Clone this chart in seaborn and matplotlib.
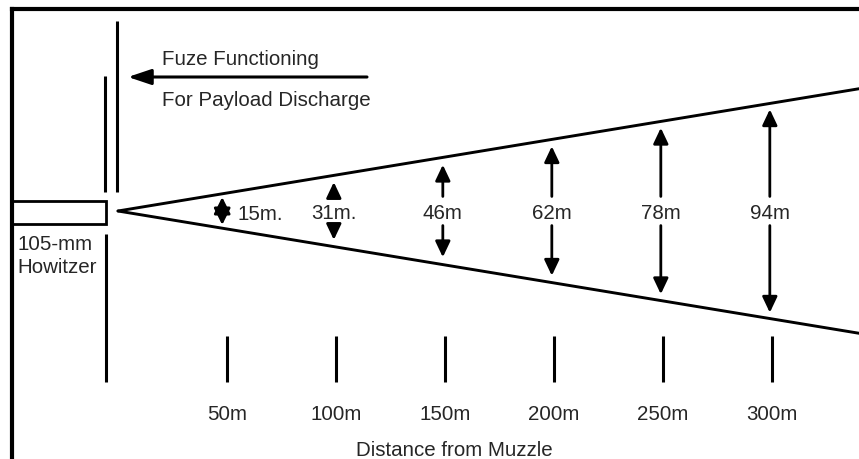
import numpy as np
import pandas as pd
import seaborn as sns
import matplotlib.pyplot as plt
from matplotlib.patches import Rectangle

# burst pattern diameter at each distance from the muzzle
distance = [50, 100, 150, 200, 250, 300]
diameter = [15, 31, 46, 62, 78, 94]
dist_labels = ["50m", "100m", "150m", "200m", "250m", "300m"]
dia_labels = ["15m.", "31m.", "46m", "62m", "78m", "94m"]

# layout: pixel position of the muzzle and pixels per metre
X0, XS = 118, 2.18
Y0, YS = 212, 2.31
FS = 14.8


def fx(p):
    return (p - X0) / XS


def fy(p):
    return (Y0 - p) / YS


sns.set_theme(style="white")
plt.rcParams["font.family"] = ["Liberation Sans", "DejaVu Sans"]

fig = plt.figure(figsize=(8.59, 4.60), dpi=100)
ax = fig.add_axes([11.5 / 859, 0, 1 - 11.5 / 859, 1 - 10 / 460])
ax.set_xlim(fx(11.5), fx(859))
ax.set_ylim(fy(460), fy(10))
ax.set_xticks([])
ax.set_yticks([])
for s in ["right", "bottom"]:
    ax.spines[s].set_visible(False)
for s in ["left", "top"]:
    ax.spines[s].set_color("black")
    ax.spines[s].set_linewidth(3)

# cone of the burst pattern, edges fitted through the half diameters
d = np.array(distance, dtype=float)
half = np.array(diameter, dtype=float) / 2
k = np.sum(d * half) / np.sum(d * d)
xend = fx(859)
cone = pd.DataFrame({
    "d": [0, xend, 0, xend],
    "edge": [0, k * xend, 0, -k * xend],
    "side": ["upper", "upper", "lower", "lower"],
})
sns.lineplot(data=cone, x="d", y="edge", units="side", estimator=None,
             color="black", linewidth=2.1, ax=ax, legend=False)

# diameter arrows
head = dict(color="black", lw=2, shrinkA=0, shrinkB=0, mutation_scale=10)
gap = 6.3
for dd, dia, lab in zip(distance, diameter, dia_labels):
    tip = dia / 2 - 3
    if dia == diameter[0]:
        ax.annotate("", xy=(dd - 2.2, 6), xytext=(dd - 2.2, -6),
                    arrowprops=dict(arrowstyle="<|-|>,head_length=1.0,head_width=0.5", **head))
        ax.text(dd + 5, fy(220), lab, fontsize=FS, ha="left", va="baseline")
        continue
    for sgn in (1, -1):
        ax.annotate("", xy=(dd - 1, sgn * tip), xytext=(dd - 1, sgn * gap),
                    arrowprops=dict(arrowstyle="-|>,head_length=0.95,head_width=0.45", **head))
    ax.text(dd - 1, fy(219), lab, fontsize=FS, ha="center", va="baseline")

# distance marks along the bottom
ax.vlines(distance, fy(383), fy(337), color="black", lw=2.2)
for dd, lab in zip(distance, dist_labels):
    ax.text(dd, fy(420), lab, fontsize=FS, ha="center", va="baseline")
ax.text(fx(454), fy(456), "Distance from Muzzle", fontsize=FS,
        ha="center", va="baseline")

# howitzer barrel and muzzle lines
ax.add_patch(Rectangle((fx(11.5), fy(225)), (106 - 11.5) / XS, 23 / YS,
                       fill=False, ec="black", lw=2, zorder=3))
ax.vlines([fx(105)], fy(193), fy(77), color="black", lw=2.2)
ax.vlines([fx(117)], fy(193), fy(22), color="black", lw=2.2)
ax.vlines([fx(106)], fy(383), fy(235), color="black", lw=2.2)
ax.text(fx(17), fy(250), "105-mm", fontsize=FS, ha="left", va="baseline")
ax.text(fx(17), fy(273), "Howitzer", fontsize=FS, ha="left", va="baseline")

# fuze functioning arrow
ax.annotate("", xy=(fx(128), fy(78)), xytext=(fx(367), fy(78)),
            arrowprops=dict(arrowstyle="-|>,head_length=1.4,head_width=0.47",
                            color="black", lw=2.2, shrinkA=0, shrinkB=0,
                            mutation_scale=10))
ax.text(fx(162), fy(65), "Fuze Functioning", fontsize=FS, ha="left", va="baseline")
ax.text(fx(162), fy(106), "For Payload Discharge", fontsize=FS, ha="left", va="baseline")

fig.savefig("out.png", dpi=100, facecolor="white")
